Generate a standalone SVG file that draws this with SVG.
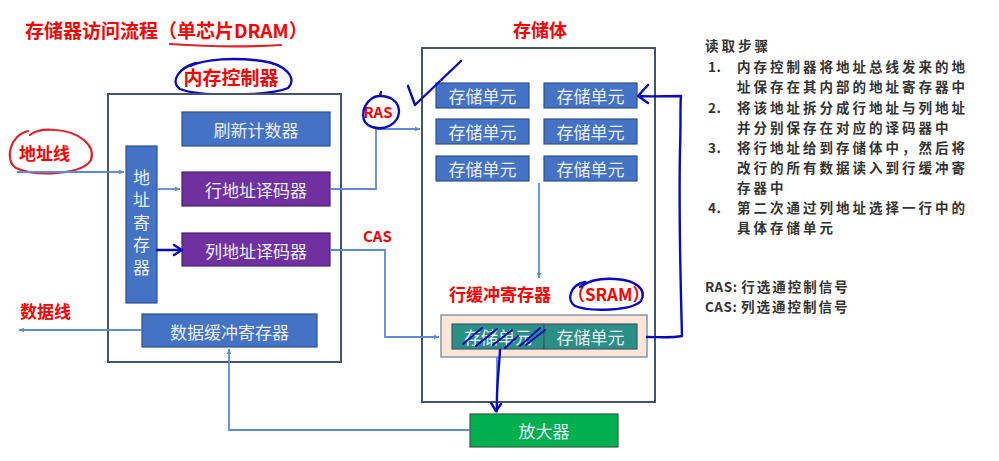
<svg xmlns="http://www.w3.org/2000/svg" width="999" height="461" viewBox="0 0 999 461">
  <style>
    text { font-family: "Noto Sans CJK SC", "Noto Sans", sans-serif; }
    .frame { fill: #ffffff; stroke: #44546A; stroke-width: 2; }
    .blue { fill: #4472C4; stroke: #2F528F; stroke-width: 1.2; }
    .purple { fill: #7030A0; stroke: #4B2070; stroke-width: 1.2; }
    .teal { fill: #2A8F84; stroke: #44546A; stroke-width: 1.2; }
    .green { fill: #00B050; stroke: #2F5F3F; stroke-width: 1.2; }
    .peach { fill: #FBE5D6; stroke: #8497B0; stroke-width: 1.5; }
    .nt { fill: #E9EEF7; font-size: 17px; text-anchor: middle; dominant-baseline: central; }
    .red { fill: #FF0000; font-weight: bold; }
    .conn { fill: none; stroke: #5B8BD9; stroke-width: 1.8; }
    .ink { fill: none; stroke: #0A0ABF; stroke-width: 2.4; stroke-linecap: round; stroke-linejoin: round; }
    .redink { fill: none; stroke: #E0202A; stroke-width: 2.2; stroke-linecap: round; stroke-linejoin: round; }
    .note { fill: #333333; font-size: 13.5px; font-weight: bold; letter-spacing: 3px; }
    .note.num, .note .lat { letter-spacing: 0.5px; }
    .note .cjk { letter-spacing: 2px; }
  </style>
  <defs>
    <marker id="arr" viewBox="0 0 10 10" refX="9" refY="5" markerWidth="6" markerHeight="6" orient="auto-start-reverse" markerUnits="userSpaceOnUse">
      <path d="M0,1 L10,5 L0,9 z" fill="#5B8BD9"/>
    </marker>
  </defs>

  <!-- headings -->
  <g id="title">
    <text x="25" y="38" class="red" font-size="19">存储器访问流程（单芯片DRAM）</text>
    <path d="M170,44 Q230,48 281,45" class="redink"/>
  </g>

  <!-- memory controller -->
  <g id="controller">
    <text x="231" y="85" class="red" font-size="19" text-anchor="middle">内存控制器</text>
    <path d="M196,63 C178,68 170,82 180,89 C200,97 270,96 288,88 C298,78 285,64 262,61 C235,57 205,59 190,66" class="ink"/>
    <rect x="108" y="94" width="233" height="268" class="frame"/>
  </g>
  <g id="refresh">
    <rect x="182" y="112" width="148" height="34" class="blue"/>
    <text x="256" y="129" class="nt">刷新计数器</text>
  </g>
  <g id="addr-reg">
    <rect x="126" y="146" width="31" height="157" class="blue"/>
    <text x="141.5" y="169" font-size="17" fill="#E9EEF7" writing-mode="vertical-rl" letter-spacing="5.5">地址寄存器</text>
  </g>
  <g id="row-decoder">
    <rect x="182" y="172" width="148" height="34" class="purple"/>
    <text x="256" y="189" class="nt">行地址译码器</text>
  </g>
  <g id="col-decoder">
    <rect x="182" y="233" width="148" height="33" class="purple"/>
    <text x="256" y="250" class="nt">列地址译码器</text>
  </g>
  <g id="data-buffer">
    <rect x="142" y="314" width="175" height="33" class="blue"/>
    <text x="229.5" y="331" class="nt">数据缓冲寄存器</text>
  </g>

  <!-- side labels -->
  <g id="addr-line">
    <text x="19" y="160" class="red" font-size="17">地址线</text>
    <path d="M28,131 C10,135 4,160 16,168 C35,177 82,175 91,160 C96,145 78,131 55,130 C45,129 35,131 30,135" class="redink"/>
  </g>
  <g id="data-line">
    <text x="20" y="318" class="red" font-size="17">数据线</text>
  </g>

  <!-- storage array -->
  <g id="storage">
    <text x="540" y="37" class="red" font-size="18" text-anchor="middle">存储体</text>
    <rect x="422" y="48" width="233" height="354" class="frame"/>
  </g>
  <g id="cell-1-1"><rect x="436" y="83" width="93" height="25" class="blue"/><text x="482.5" y="95.5" class="nt">存储单元</text></g>
  <g id="cell-1-2"><rect x="544" y="83" width="93" height="25" class="blue"/><text x="590.5" y="95.5" class="nt">存储单元</text></g>
  <g id="cell-2-1"><rect x="436" y="119" width="93" height="25" class="blue"/><text x="482.5" y="131.5" class="nt">存储单元</text></g>
  <g id="cell-2-2"><rect x="544" y="119" width="93" height="25" class="blue"/><text x="590.5" y="131.5" class="nt">存储单元</text></g>
  <g id="cell-3-1"><rect x="436" y="156" width="93" height="25" class="blue"/><text x="482.5" y="168.5" class="nt">存储单元</text></g>
  <g id="cell-3-2"><rect x="544" y="156" width="93" height="25" class="blue"/><text x="590.5" y="168.5" class="nt">存储单元</text></g>

  <!-- row buffer -->
  <g id="row-buffer">
    <text x="449" y="301" class="red" font-size="17">行缓冲寄存器</text>
    <text x="568" y="301" class="red" font-size="17">（SRAM）</text>
    <path d="M585,282 C570,285 566,300 575,306 C590,312 632,311 641,301 C647,290 637,280 615,279 C600,278 588,281 580,287" class="ink"/>
    <rect x="441" y="315" width="206" height="42" class="peach"/>
    <rect x="452" y="324" width="92" height="25" class="teal"/>
    <text x="498" y="336.5" class="nt">存储单元</text>
    <rect x="544" y="324" width="93" height="25" class="teal"/>
    <text x="590.5" y="336.5" class="nt">存储单元</text>
  </g>

  <g id="amplifier">
    <rect x="470" y="414" width="148" height="33" class="green"/>
    <text x="544" y="430.5" class="nt">放大器</text>
  </g>

  <!-- read-step notes -->
  <g id="notes">
    <text x="705" y="51" class="note">读取步骤</text>
    <text x="708" y="72" class="note num">1.</text>
    <text x="737" y="72" class="note">内存控制器将地址总线发来的地</text>
    <text x="737" y="92" class="note">址保存在其内部的地址寄存器中</text>
    <text x="708" y="113" class="note num">2.</text>
    <text x="737" y="113" class="note">将该地址拆分成行地址与列地址</text>
    <text x="737" y="133" class="note">并分别保存在对应的译码器中</text>
    <text x="708" y="153" class="note num">3.</text>
    <text x="737" y="153" class="note">将行地址给到存储体中，然后将</text>
    <text x="737" y="173" class="note">改行的所有数据读入到行缓冲寄</text>
    <text x="737" y="193" class="note">存器中</text>
    <text x="708" y="213" class="note num">4.</text>
    <text x="737" y="213" class="note">第二次通过列地址选择一行中的</text>
    <text x="737" y="233" class="note">具体存储单元</text>
    <text x="705" y="292" class="note"><tspan class="lat">RAS: </tspan><tspan class="cjk">行选通控制信号</tspan></text>
    <text x="705" y="312" class="note"><tspan class="lat">CAS: </tspan><tspan class="cjk">列选通控制信号</tspan></text>
  </g>

  <!-- connectors -->
  <g id="connectors">
    <path d="M17,172 H124" class="conn" marker-end="url(#arr)"/>
    <path d="M157,189 H180" class="conn" marker-end="url(#arr)"/>
    <path d="M157,250 H178" class="conn"/>
    <path d="M142,330 H19" class="conn" marker-end="url(#arr)"/>
    <path d="M330,189 H376 V129 H420" class="conn" marker-end="url(#arr)"/>
    <path d="M330,250 H385 V337 H439" class="conn" marker-end="url(#arr)"/>
    <path d="M539,183 V278" class="conn" marker-end="url(#arr)"/>
    <path d="M497,357 V413" class="conn"/>
    <path d="M470,430 H229 V349" class="conn" marker-end="url(#arr)"/>
    <text x="363" y="242" class="red" font-size="15">CAS</text>
    <text x="378" y="118" class="red" font-size="15" text-anchor="middle">RAS</text>
  </g>

  <!-- pen annotations -->
  <g id="annotations">
    <path d="M370,100 C361,108 360,123 372,127 C385,131 398,124 399,112 C399,101 390,96 380,96 C375,96 372,98 370,100 M380,96 L381,92" class="ink"/>
    <path d="M408,86 L415,105 L461,61" class="ink"/>
    <path d="M157,250 H181 M174,245 L182,250 L174,255" class="ink"/>
    <path d="M647,337 C660,337 672,338 682,336 C681,300 679,200 680,150 C681,120 680,105 681,96 C665,96 650,97 640,96 M648,85 L638,96 L648,103" class="ink"/>
    <path d="M500,350 C499,370 496,390 497,410 M491,403 L496,411 L501,404" class="ink"/>
    <path d="M463,344 L482,328 M476,346 L497,329 M493,345 L512,330 M505,348 L518,336 M520,346 L540,328 M526,345 L545,330" class="ink" style="stroke-width:2"/>
  </g>
</svg>
